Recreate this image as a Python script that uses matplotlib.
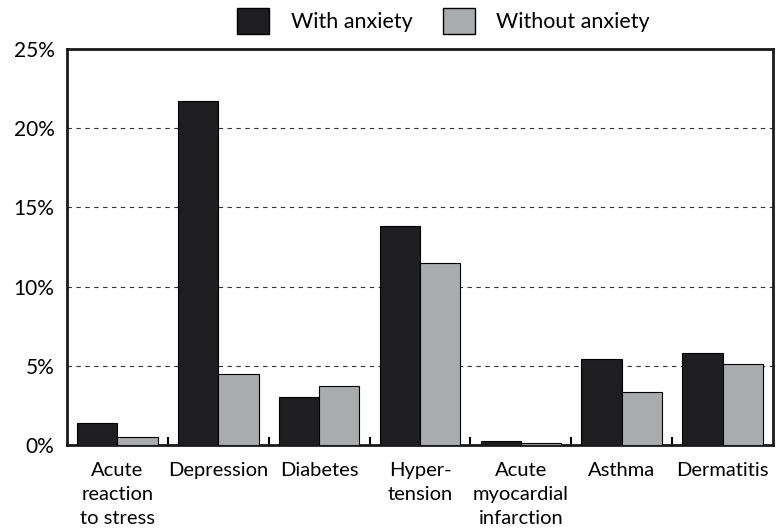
import numpy as np
import matplotlib
matplotlib.use("Agg")
import matplotlib.pyplot as plt
from matplotlib.patches import Patch

plt.rcParams['font.family'] = ['Lato', 'DejaVu Sans']

# data (percent)
categories = ["Acute\nreaction\nto stress", "Depression", "Diabetes", "Hyper-\ntension",
              "Acute\nmyocardial\ninfarction", "Asthma", "Dermatitis"]
with_anxiety = [1.4, 21.7, 3.0, 13.8, 0.25, 5.4, 5.8]
without_anxiety = [0.5, 4.5, 3.7, 11.5, 0.1, 3.35, 5.1]
y_ticks = [0, 5, 10, 15, 20, 25]

dark = '#1e1e20'
grey = '#aaabad'

fig = plt.figure(figsize=(7.78, 5.31), dpi=100)
ax = fig.add_axes([0.0861, 0.162, 0.9075, 0.7457])

x = np.arange(len(categories))
w = 0.4
ax.bar(x - w/2, with_anxiety, w, color=dark, edgecolor='black', linewidth=0.8, zorder=3)
ax.bar(x + w/2, without_anxiety, w, color=grey, edgecolor='black', linewidth=0.8, zorder=3)

ax.set_xlim(-0.5, len(categories) - 0.5)
ax.set_ylim(0, 25)
ax.set_yticks(y_ticks)
ax.set_yticklabels([f"{v}%" for v in y_ticks], fontsize=15)
ax.tick_params(axis='y', length=0, pad=9)

ax.set_xticks(x)
ax.set_xticklabels(categories, fontsize=14.5, linespacing=1.5)
ax.tick_params(axis='x', which='major', length=0, pad=12)
ax.set_xticks(np.arange(0.5, len(categories) - 0.5, 1), minor=True)
ax.tick_params(axis='x', which='minor', direction='in', length=6, width=1.5, color='black')

for v in y_ticks[1:-1]:
    ax.axhline(v, color='#333333', linestyle=(0, (4, 4)), linewidth=0.8, zorder=1)

for s in ax.spines.values():
    s.set_linewidth(2)
    s.set_color('#1a1a1a')

handles = [Patch(facecolor=dark, edgecolor='black', label='With anxiety'),
           Patch(facecolor=grey, edgecolor='black', label='Without anxiety')]
fig.legend(handles=handles, loc='upper center', bbox_to_anchor=(0.57, 1.022), ncol=2,
           frameon=False, fontsize=15.5, handlelength=1.5, handleheight=1.5,
           handletextpad=1.0, columnspacing=1.4)

fig.savefig("out.png", dpi=100)
